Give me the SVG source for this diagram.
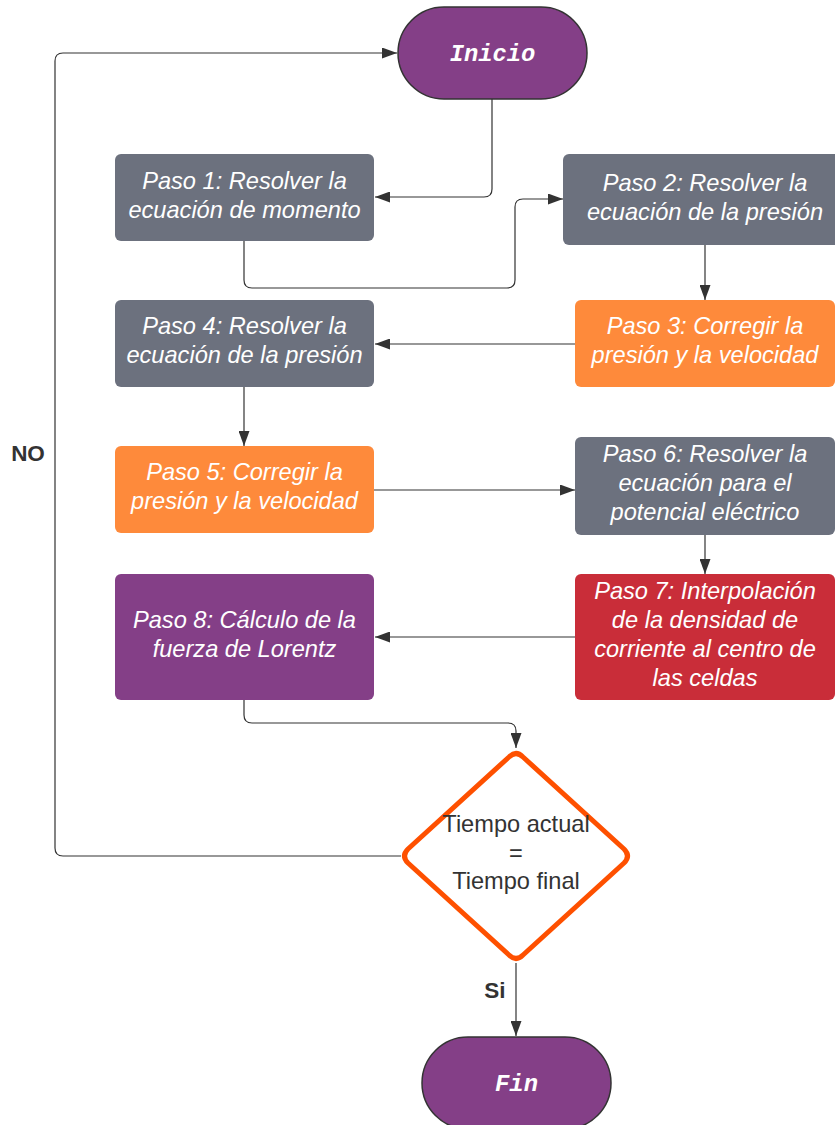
<svg xmlns="http://www.w3.org/2000/svg" width="835" height="1125" viewBox="0 0 835 1125">
<style>
.bg{fill:#ffffff}
.gray{fill:#6c717e}
.orange{fill:#fe8a3b}
.red{fill:#c92d39}
.purple{fill:#843f87}
.term{fill:#843f87;stroke:#333333;stroke-width:1.5}
.t{font-family:"Liberation Sans",Arial,sans-serif;font-style:italic;font-size:23.6px;fill:#ffffff;text-anchor:middle}
.mono{font-family:"Liberation Mono","Courier New",monospace;font-style:italic;font-weight:bold;font-size:23.8px;fill:#ffffff;text-anchor:middle}
.d{font-family:"Liberation Sans",Arial,sans-serif;font-size:23.6px;fill:#333333;text-anchor:middle}
.lbl{font-family:"Liberation Sans",Arial,sans-serif;font-weight:bold;font-size:22.5px;fill:#333333;text-anchor:middle}
.c{fill:none;stroke:#333333;stroke-width:1.2}
</style>
<defs>
<marker id="arr" viewBox="0 0 15 11" refX="15" refY="5.5" markerWidth="15" markerHeight="11" markerUnits="userSpaceOnUse" orient="auto">
<path d="M0,0 L15,5.5 L0,11 Z" fill="#333333"/>
</marker>
</defs>
<rect class="bg" x="0" y="0" width="835" height="1125"/>

<g id="connectors">
<path class="c" d="M492,99 V189 Q492,197 484,197 H375" marker-end="url(#arr)"/>
<path class="c" d="M244,241 V280 Q244,288 252,288 H507 Q515,288 515,280 V207 Q515,199 523,199 H563" marker-end="url(#arr)"/>
<path class="c" d="M705,245 V300" marker-end="url(#arr)"/>
<path class="c" d="M575,344 H375" marker-end="url(#arr)"/>
<path class="c" d="M244,387 V446" marker-end="url(#arr)"/>
<path class="c" d="M374,490 H575" marker-end="url(#arr)"/>
<path class="c" d="M705,535 V574" marker-end="url(#arr)"/>
<path class="c" d="M575,637 H375" marker-end="url(#arr)"/>
<path class="c" d="M244,700 V715 Q244,723 252,723 H508 Q516,723 516,731 V748" marker-end="url(#arr)"/>
<path class="c" d="M401,856 H63 Q55,856 55,848 V61 Q55,53 63,53 H397" marker-end="url(#arr)"/>
<path class="c" d="M516,963 V1036" marker-end="url(#arr)"/>
<text class="lbl" x="28" y="461">NO</text>
<text class="lbl" x="495" y="998">Si</text>
</g>

<g id="inicio">
<rect class="term" x="398" y="7" width="189" height="92" rx="46"/>
<text class="mono" x="492.5" y="61">Inicio</text>
</g>

<g id="paso1">
<rect class="gray" x="115" y="154" width="259" height="87" rx="6"/>
<text class="t" x="244.5" y="189">Paso 1: Resolver la</text>
<text class="t" x="244.5" y="218">ecuación de momento</text>
</g>

<g id="paso2">
<rect class="gray" x="563" y="154" width="284" height="91" rx="6"/>
<text class="t" x="705" y="191">Paso 2: Resolver la</text>
<text class="t" x="705" y="220">ecuación de la presión</text>
</g>

<g id="paso3">
<rect class="orange" x="575" y="300" width="260" height="87" rx="6"/>
<text class="t" x="705" y="334">Paso 3: Corregir la</text>
<text class="t" x="705" y="363">presión y la velocidad</text>
</g>

<g id="paso4">
<rect class="gray" x="115" y="300" width="259" height="87" rx="6"/>
<text class="t" x="244.5" y="334">Paso 4: Resolver la</text>
<text class="t" x="244.5" y="363">ecuación de la presión</text>
</g>

<g id="paso5">
<rect class="orange" x="115" y="446" width="259" height="87" rx="6"/>
<text class="t" x="244.5" y="480">Paso 5: Corregir la</text>
<text class="t" x="244.5" y="509">presión y la velocidad</text>
</g>

<g id="paso6">
<rect class="gray" x="575" y="437" width="260" height="98" rx="6"/>
<text class="t" x="705" y="462">Paso 6: Resolver la</text>
<text class="t" x="705" y="491">ecuación para el</text>
<text class="t" x="705" y="520">potencial eléctrico</text>
</g>

<g id="paso7">
<rect class="red" x="575" y="574" width="260" height="126" rx="6"/>
<text class="t" x="705" y="599">Paso 7: Interpolación</text>
<text class="t" x="705" y="628">de la densidad de</text>
<text class="t" x="705" y="657">corriente al centro de</text>
<text class="t" x="705" y="686">las celdas</text>
</g>

<g id="paso8">
<rect class="purple" x="115" y="574" width="259" height="126" rx="6"/>
<text class="t" x="244.5" y="628">Paso 8: Cálculo de la</text>
<text class="t" x="244.5" y="657">fuerza de Lorentz</text>
</g>

<g id="decision">
<path d="M509,757 Q516,750 523,757 L624,849 Q631,856 624,863 L523,955 Q516,962 509,955 L408,863 Q401,856 408,849 Z" fill="#ffffff" stroke="#fe5000" stroke-width="5" stroke-linejoin="round"/>
<text class="d" x="516" y="832">Tiempo actual</text>
<text class="d" x="516" y="861">=</text>
<text class="d" x="516" y="889">Tiempo final</text>
</g>

<g id="fin">
<rect class="term" x="422" y="1037" width="189" height="92" rx="46"/>
<text class="mono" x="516.5" y="1091">Fin</text>
</g>
</svg>
